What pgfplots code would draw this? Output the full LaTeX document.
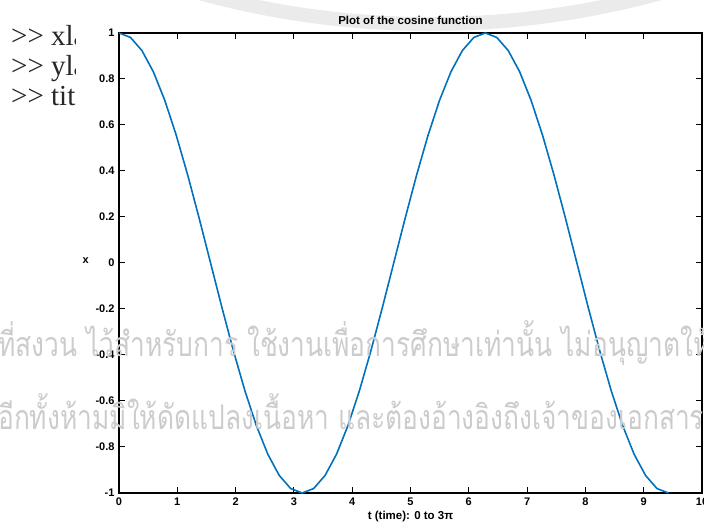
\documentclass[border=0pt]{standalone}
\usepackage{pgfplots}
\pgfplotsset{compat=1.18}
\usepackage{fontspec}
\setmainfont{Liberation Sans}
\newfontfamily\serifdoc{Liberation Serif}
\newfontfamily\thaifont[Script=Thai,FakeStretch=0.775]{Loma}
\definecolor{mblue}{RGB}{0,114,189}
\begin{document}
\begin{tikzpicture}[x=1pt,y=1pt]
\useasboundingbox (0,0) rectangle (704,526);
% faint watermark ring at the top
\begin{scope}
\clip (0,0) rectangle (704,526);
\draw[black!8, line width=14pt] (430,1372) circle[radius=870];
\end{scope}
% command text behind the figure
\begin{scope}
\clip (0,0) rectangle (75,526);
\node[anchor=base west, inner sep=0pt, font=\serifdoc\fontsize{29}{32}\selectfont, text=black!85] at (11,526-46) {>\kern0pt> xla};
\node[anchor=base west, inner sep=0pt, font=\serifdoc\fontsize{29}{32}\selectfont, text=black!85] at (11,526-76) {>\kern0pt> yla};
\node[anchor=base west, inner sep=0pt, font=\serifdoc\fontsize{29}{32}\selectfont, text=black!85] at (11,526-106) {>\kern0pt> tit};
\end{scope}
\begin{axis}[
  at={(119pt,33pt)}, anchor=south west,
  scale only axis, width=583pt, height=460pt,
  xmin=0, xmax=10, ymin=-1, ymax=1,
  xtick={0,1,...,10},
  ytick={-1,-0.8,-0.6,-0.4,-0.2,0,0.2,0.4,0.6,0.8,1},
  yticklabels={-1,-0.8,-0.6,-0.4,-0.2,0,0.2,0.4,0.6,0.8,1},
  tick align=inside, major tick length=6pt,
  xtick pos=both, ytick pos=both,
  axis line style={black, line width=1.8pt},
  every tick/.style={black, line width=1pt},
  tick label style={font=\bfseries\fontsize{11}{12}\selectfont},
  /pgf/number format/assume math mode=true,
  xticklabel style={yshift=-1pt},
  yticklabel style={xshift=-1pt},
  title={\bfseries\fontsize{11.5}{13}\selectfont Plot of the cosine function},
  title style={yshift=-1pt},
  xlabel={\bfseries\fontsize{11.5}{13}\selectfont t (time): 0 to 3π},
  xlabel style={yshift=1pt},
  ylabel={\bfseries\fontsize{11}{12}\selectfont x},
  ylabel style={rotate=-90, xshift=0pt, yshift=2pt},
  clip=false,
]
\addplot[mblue, line width=1.6pt] coordinates {
(0.00000,1.00000) (0.19635,0.98079) (0.39270,0.92388) (0.58905,0.83147)
(0.78540,0.70711) (0.98175,0.55557) (1.17810,0.38268) (1.37445,0.19509)
(1.57080,0.00000) (1.76715,-0.19509) (1.96350,-0.38268) (2.15984,-0.55557)
(2.35619,-0.70711) (2.55254,-0.83147) (2.74889,-0.92388) (2.94524,-0.98079)
(3.14159,-1.00000) (3.33794,-0.98079) (3.53429,-0.92388) (3.73064,-0.83147)
(3.92699,-0.70711) (4.12334,-0.55557) (4.31969,-0.38268) (4.51604,-0.19509)
(4.71239,0.00000) (4.90874,0.19509) (5.10509,0.38268) (5.30144,0.55557)
(5.49779,0.70711) (5.69414,0.83147) (5.89049,0.92388) (6.08684,0.98079)
(6.28319,1.00000) (6.47953,0.98079) (6.67588,0.92388) (6.87223,0.83147)
(7.06858,0.70711) (7.26493,0.55557) (7.46128,0.38268) (7.65763,0.19509)
(7.85398,0.00000) (8.05033,-0.19509) (8.24668,-0.38268) (8.44303,-0.55557)
(8.63938,-0.70711) (8.83573,-0.83147) (9.03208,-0.92388) (9.22843,-0.98079)
(9.42478,-1.00000)
};
\end{axis}
% watermark text
\begin{scope}
\clip (0,0) rectangle (704,526);
\node[anchor=base west, inner sep=0pt, font=\thaifont\fontsize{34}{40}\selectfont, text=black!20] at (-2,526-357) {ที่สงวน ไว้สำหรับการ ใช้งานเพื่อการศึกษาเท่านั้น ไม่อนุญาตให้ทำซ้ำ};
\node[anchor=base west, inner sep=0pt, font=\thaifont\fontsize{34}{40}\selectfont, text=black!20] at (-2,526-430) {อีกทั้งห้ามมิให้ดัดแปลงเนื้อหา และต้องอ้างอิงถึงเจ้าของเอกสาร};
\end{scope}
\end{tikzpicture}
\end{document}
